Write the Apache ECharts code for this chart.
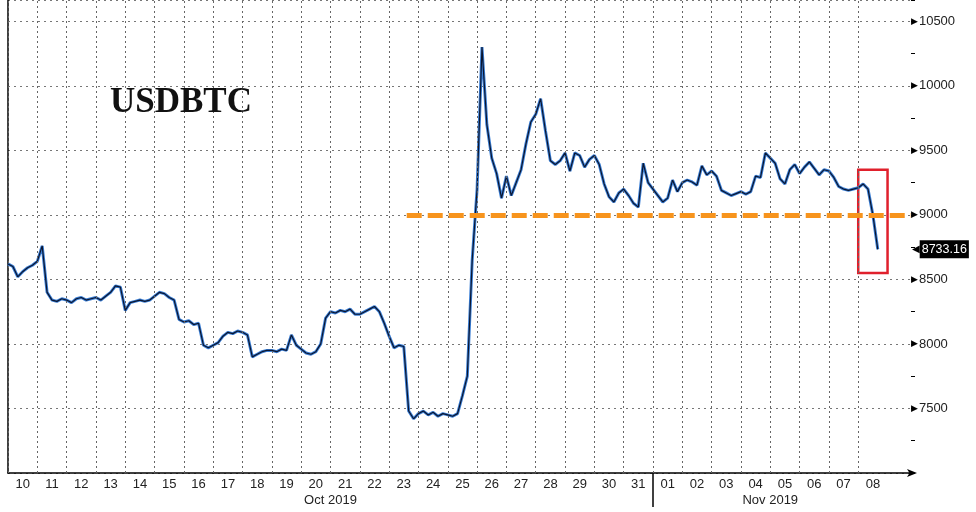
<!DOCTYPE html>
<html><head><meta charset="utf-8">
<script src="https://cdn.jsdelivr.net/npm/echarts@6/dist/echarts.min.js"></script>
<style>html,body{margin:0;padding:0;background:#fff}#c{width:976px;height:512px}</style>
</head><body><div id="c"></div>
<script>
const TITLE = 'USDBTC';
const dayLabels = ['10','11','12','13','14','15','16','17','18','19','20','21','22','23','24','25','26','27','28','29','30','31',
                   '01','02','03','04','05','06','07','08'];
const monthLabels = ['Oct 2019', 'Nov 2019'];
const monthCenterDays = [11, 26];
const monthStartDay = 22;           // Nov 01
const pointsPerDay = 6;             // 4-hour samples starting Oct 10 00:00
const prices = [
  8620, 8600, 8520, 8560, 8590, 8610,   // Oct 10
  8640, 8760, 8400, 8340, 8330, 8350,   // Oct 11
  8340, 8320, 8350, 8360, 8340, 8350,   // Oct 12
  8360, 8340, 8370, 8400, 8450, 8440,   // Oct 13
  8260, 8320, 8330, 8340, 8330, 8340,   // Oct 14
  8370, 8400, 8390, 8360, 8340, 8190,   // Oct 15
  8170, 8180, 8150, 8160, 7990, 7970,   // Oct 16
  7990, 8010, 8060, 8090, 8080, 8100,   // Oct 17
  8090, 8070, 7900, 7920, 7940, 7950,   // Oct 18
  7950, 7940, 7960, 7950, 8070, 7990,   // Oct 19
  7960, 7930, 7920, 7940, 8000, 8200,   // Oct 20
  8250, 8240, 8260, 8250, 8270, 8230,   // Oct 21
  8230, 8250, 8270, 8290, 8250, 8160,   // Oct 22
  8060, 7970, 7990, 7980, 7480, 7420,   // Oct 23
  7460, 7480, 7450, 7470, 7440, 7460,   // Oct 24
  7450, 7440, 7460, 7600, 7750, 8650,   // Oct 25
  9200, 10300, 9700, 9440, 9320, 9130,  // Oct 26
  9300, 9150, 9250, 9350, 9550, 9720,   // Oct 27
  9780, 9900, 9650, 9420, 9390, 9420,   // Oct 28
  9480, 9340, 9480, 9460, 9370, 9430,   // Oct 29
  9460, 9390, 9240, 9140, 9100, 9170,   // Oct 30
  9200, 9150, 9090, 9060, 9400, 9250,   // Oct 31
  9200, 9150, 9100, 9130, 9270, 9180,   // Nov 01
  9250, 9270, 9255, 9230, 9380, 9310,   // Nov 02
  9340, 9300, 9190, 9170, 9150, 9165,   // Nov 03
  9180, 9160, 9180, 9300, 9290, 9480,   // Nov 04
  9440, 9400, 9280, 9240, 9350, 9390,   // Nov 05
  9320, 9370, 9410, 9360, 9310, 9350,   // Nov 06
  9340, 9290, 9220, 9200, 9190, 9200,   // Nov 07
  9210, 9240, 9200, 9000, 8733.16       // Nov 08
];
const lastPrice = 8733.16;
const supportLevel = 9000;
const supportStartDay = 13.6;
const boxDays = [29, 30];
const boxRange = [8550, 9350];
const X_MAX = 30.8;
const Y_MIN = 7000, Y_MAX = 10665, Y_STEP = 500, Y_MINOR_STEP = 250, Y_TOP_LABEL = 10500;

const FONT = 'Liberation Sans';
const seriesData = prices.map((v, i) => [i / pointsPerDay, v]);

const chart = echarts.init(document.getElementById('c'), null, {renderer: 'canvas'});
chart.setOption({
  animation: false,
  backgroundColor: '#fff',
  title: {
    text: TITLE, left: 105, top: 80,
    textStyle: {fontFamily: 'Liberation Serif', fontWeight: 'bold', fontSize: 35, color: '#111'}
  },
  grid: {left: 8, right: 65, top: -2, bottom: 39},
  xAxis: {
    type: 'value', min: 0, max: X_MAX, interval: 0.5,
    axisLine: {show: true, lineStyle: {color: '#000', width: 1.5}, symbol: ['none', 'arrow'], symbolSize: [6, 10], symbolOffset: [0, 6]},
    axisTick: {show: false},
    splitLine: {show: false},
    axisLabel: {
      margin: 3, fontFamily: FONT, fontSize: 13, color: '#222', lineHeight: 16,
      showMinLabel: true, showMaxLabel: true,
      formatter: v => {
        const r = Math.round(v * 2) / 2;
        if (Math.abs(r - Math.floor(r) - 0.5) < 1e-6) return dayLabels[Math.floor(r)] || '';
        const mi = monthCenterDays.indexOf(r);
        return mi >= 0 ? '\n' + monthLabels[mi] : '';
      }
    }
  },
  yAxis: [
    {
      type: 'value', position: 'right', min: Y_MIN, max: Y_MAX, interval: Y_STEP,
      axisLine: {show: true, lineStyle: {color: '#000', width: 1.5}},
      axisTick: {show: false},
      splitLine: {show: true, lineStyle: {color: '#777', type: [2, 4], width: 1}},
      axisLabel: {
        margin: 0, fontFamily: FONT, fontSize: 13, color: '#222',
        formatter: v => (v % Y_STEP === 0 && v > Y_MIN && v <= Y_TOP_LABEL) ? '{t|▶}' + v : '',
        rich: {t: {fontSize: 9, color: '#000', fontFamily: 'DejaVu Sans', padding: [0, 1, 0, 0]}}
      }
    },
    {
      type: 'value', position: 'right', min: Y_MIN, max: Y_MAX, interval: Y_MINOR_STEP,
      axisLine: {show: false},
      axisTick: {show: true, inside: false, length: 4, lineStyle: {color: '#000', width: 1}},
      splitLine: {show: false},
      axisLabel: {show: false}
    }
  ],
  series: [
    {
      type: 'line', data: seriesData, showSymbol: false, symbol: 'none', z: 2,
      lineStyle: {color: '#3b7fd6', width: 3},
      markLine: {
        silent: true, symbol: ['none', 'none'], label: {show: false},
        lineStyle: {color: '#666', type: [2, 3], width: 1},
        data: dayLabels.map((_, i) => ({xAxis: i}))
      }
    },
    {
      type: 'line', data: seriesData, showSymbol: false, symbol: 'none', z: 3,
      lineStyle: {color: '#0b1630', width: 1.2},
      markLine: {
        silent: true, symbol: ['none', 'none'],
        data: [
          [{coord: [supportStartDay, supportLevel], lineStyle: {color: '#f7941d', width: 5, type: [15, 6]}, label: {show: false}},
           {coord: [X_MAX, supportLevel]}],
          {yAxis: lastPrice, lineStyle: {color: 'rgba(0,0,0,0)', width: 0},
           label: {show: true, position: 'end', distance: 1,
             formatter: () => '{p|◀}{b|' + lastPrice.toFixed(2) + '}',
             rich: {
               p: {color: '#000', fontSize: 10, fontFamily: 'DejaVu Sans'},
               b: {backgroundColor: '#000', color: '#fff', fontFamily: FONT, fontSize: 12.5, padding: [3, 2, 2, 2]}
             }}}
        ]
      },
      markArea: {
        silent: true,
        itemStyle: {color: 'rgba(0,0,0,0)', borderColor: '#e0202c', borderWidth: 2.5},
        data: [[{coord: [boxDays[0], boxRange[1]]}, {coord: [boxDays[1], boxRange[0]]}]]
      }
    }
  ]
});
const p0 = chart.convertToPixel({seriesIndex: 0}, [monthStartDay, Y_MIN]);
chart.setOption({
  graphic: [{type: 'line', silent: true, shape: {x1: p0[0], y1: p0[1], x2: p0[0], y2: p0[1] + 34},
             style: {stroke: '#000', lineWidth: 1.5}}]
});
</script>
</body></html>
